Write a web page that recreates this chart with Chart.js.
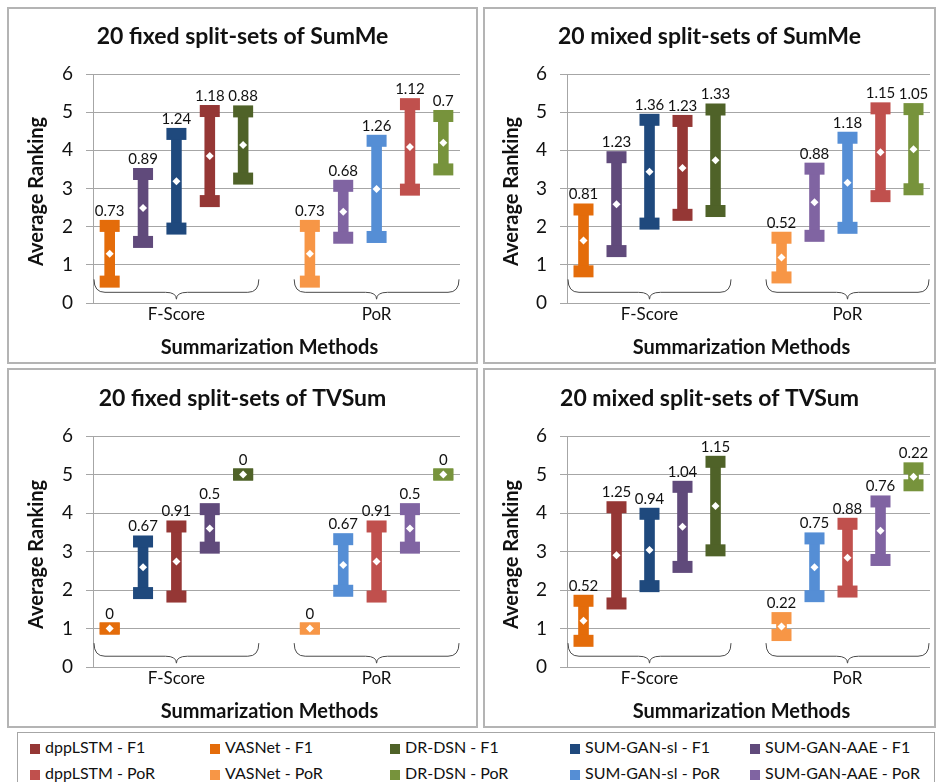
<!DOCTYPE html>
<html>
<head>
<meta charset="utf-8">
<title>Average ranking of summarization methods</title>
<script src="https://cdn.jsdelivr.net/npm/chart.js@4.4.1/dist/chart.umd.min.js"></script>
<style>
  body { margin: 0; background: #fff; width: 937px; height: 782px; position: relative; overflow: hidden; font-family: Lato, sans-serif; }
  .panel { position: absolute; box-sizing: border-box; border: 2px solid #b4b4b4; }
  .panel canvas { display: block; }
  #legend { position: absolute; left: 17px; top: 732px; width: 918px; height: 60px; box-sizing: border-box; border: 1px solid #a6a6a6; }
  .item { position: absolute; font-size: 16px; line-height: 20px; color: #111; white-space: nowrap; }
  .sw { display: inline-block; width: 10px; height: 10px; margin-right: 5px; vertical-align: -1px; }
</style>
</head>
<body>

<div class="panel" style="left:7px;top:7px;width:471px;height:357px"><canvas id="c1" width="467" height="353"></canvas></div>
<div class="panel" style="left:483px;top:7px;width:453px;height:357px"><canvas id="c2" width="449" height="353"></canvas></div>
<div class="panel" style="left:7px;top:368px;width:471px;height:360px"><canvas id="c3" width="467" height="356"></canvas></div>
<div class="panel" style="left:483px;top:368px;width:453px;height:360px"><canvas id="c4" width="449" height="356"></canvas></div>
<div id="legend"></div>

<script>
// ── Data ──
const methods = ['dppLSTM', 'VASNet', 'DR-DSN', 'SUM-GAN-sl', 'SUM-GAN-AAE'];
const colorsF1 = ['#953735', '#E46C0A', '#4F6228', '#1F497D', '#604A7B'];
const colorsPoR = ['#C0504D', '#F79646', '#77933C', '#558ED5', '#8064A2'];
const groups = ['F-Score', 'PoR'];
const yTicks = [0, 1, 2, 3, 4, 5, 6];

// 20 fixed split-sets of SumMe
const fixedSumMeOrderF = ['VASNet', 'SUM-GAN-AAE', 'SUM-GAN-sl', 'dppLSTM', 'DR-DSN'];
const fixedSumMeMeanF = [1.29, 2.49, 3.19, 3.85, 4.14];
const fixedSumMeStdF = [0.73, 0.89, 1.24, 1.18, 0.88];
const fixedSumMeOrderP = ['VASNet', 'SUM-GAN-AAE', 'SUM-GAN-sl', 'dppLSTM', 'DR-DSN'];
const fixedSumMeMeanP = [1.29, 2.39, 2.99, 4.09, 4.20];
const fixedSumMeStdP = [0.73, 0.68, 1.26, 1.12, 0.7];

// 20 mixed split-sets of SumMe
const mixedSumMeOrderF = ['VASNet', 'SUM-GAN-AAE', 'SUM-GAN-sl', 'dppLSTM', 'DR-DSN'];
const mixedSumMeMeanF = [1.64, 2.59, 3.44, 3.54, 3.74];
const mixedSumMeStdF = [0.81, 1.23, 1.36, 1.23, 1.33];
const mixedSumMeOrderP = ['VASNet', 'SUM-GAN-AAE', 'SUM-GAN-sl', 'dppLSTM', 'DR-DSN'];
const mixedSumMeMeanP = [1.19, 2.64, 3.15, 3.95, 4.03];
const mixedSumMeStdP = [0.52, 0.88, 1.18, 1.15, 1.05];

// 20 fixed split-sets of TVSum
const fixedTVSumOrderF = ['VASNet', 'SUM-GAN-sl', 'dppLSTM', 'SUM-GAN-AAE', 'DR-DSN'];
const fixedTVSumMeanF = [1, 2.59, 2.74, 3.60, 5];
const fixedTVSumStdF = [0, 0.67, 0.91, 0.5, 0];
const fixedTVSumOrderP = ['VASNet', 'SUM-GAN-sl', 'dppLSTM', 'SUM-GAN-AAE', 'DR-DSN'];
const fixedTVSumMeanP = [1, 2.65, 2.74, 3.60, 5];
const fixedTVSumStdP = [0, 0.67, 0.91, 0.5, 0];

// 20 mixed split-sets of TVSum
const mixedTVSumOrderF = ['VASNet', 'dppLSTM', 'SUM-GAN-sl', 'SUM-GAN-AAE', 'DR-DSN'];
const mixedTVSumMeanF = [1.20, 2.90, 3.04, 3.64, 4.18];
const mixedTVSumStdF = [0.52, 1.25, 0.94, 1.04, 1.15];
const mixedTVSumOrderP = ['VASNet', 'SUM-GAN-sl', 'dppLSTM', 'SUM-GAN-AAE', 'DR-DSN'];
const mixedTVSumMeanP = [1.05, 2.59, 2.84, 3.54, 4.94];
const mixedTVSumStdP = [0.22, 0.75, 0.88, 0.76, 0.22];

const FONT = 'Lato, sans-serif';
const TEXT = '#111';

// ── Plugins ──

// curly braces under each group
const bracePlugin = {
    id: 'braces',
    beforeDatasetsDraw(chart) {
        const x = chart.scales.x, y = chart.scales.y, ctx = chart.ctx;
        const slot = x.getPixelForValue(1) - x.getPixelForValue(0);
        const yTop = y.getPixelForValue(0.62);
        const yMid = y.getPixelForValue(0.28);
        const yTip = y.getPixelForValue(0.10);
        ctx.save();
        ctx.strokeStyle = '#4a4a4a';
        ctx.lineWidth = 1;
        [0, 6].forEach(function (start) {
            const L = x.getPixelForValue(start) - slot / 2 + 1;
            const R = x.getPixelForValue(start + 4) + slot / 2 - 1;
            const C = x.getPixelForValue(start + 2);
            ctx.beginPath();
            ctx.moveTo(L, yTop);
            ctx.quadraticCurveTo(L, yMid, L + 11, yMid);
            ctx.lineTo(C - 11, yMid);
            ctx.quadraticCurveTo(C, yMid, C, yTip);
            ctx.quadraticCurveTo(C, yMid, C + 11, yMid);
            ctx.lineTo(R - 11, yMid);
            ctx.quadraticCurveTo(R, yMid, R, yTop);
            ctx.stroke();
        });
        ctx.restore();
    }
};

// error-bar caps and std labels
const capPlugin = {
    id: 'caps',
    afterDatasetDraw(chart, args) {
        if (args.index !== 0) return;
        const ds = chart.data.datasets[0];
        const ctx = chart.ctx;
        ctx.save();
        args.meta.data.forEach(function (bar, i) {
            if (ds.data[i] == null) return;
            const top = Math.min(bar.y, bar.base), bottom = Math.max(bar.y, bar.base);
            ctx.fillStyle = ds.backgroundColor[i];
            ctx.fillRect(bar.x - 10, top - 6, 20, 12);
            ctx.fillRect(bar.x - 10, bottom - 6, 20, 12);
            ctx.fillStyle = TEXT;
            ctx.font = '15px ' + FONT;
            ctx.textAlign = 'center';
            ctx.textBaseline = 'alphabetic';
            ctx.fillText(String(ds.stdLabels[i]), bar.x, top - 10);
        });
        ctx.restore();
    }
};

// panel title, axis titles
const textPlugin = {
    id: 'panelText',
    afterDraw(chart, args, opts) {
        const ctx = chart.ctx, a = chart.chartArea;
        ctx.save();
        ctx.fillStyle = TEXT;
        ctx.textAlign = 'center';
        ctx.textBaseline = 'alphabetic';
        ctx.font = 'bold 23px ' + FONT;
        ctx.fillText(opts.title, chart.width / 2, opts.titleY);
        ctx.font = 'bold 20px ' + FONT;
        ctx.fillText('Summarization Methods', (a.left + a.right) / 2 - 7, a.bottom + 51);
        ctx.translate(opts.yTitleX, (a.top + a.bottom) / 2 + 3);
        ctx.rotate(-Math.PI / 2);
        ctx.textBaseline = 'middle';
        ctx.fillText('Average Ranking', 0, 0);
        ctx.restore();
    }
};

function buildPanel(id, title, orderF, meanF, stdF, orderP, meanP, stdP, area) {
    const canvas = document.getElementById(id);
    const ranges = [], means = [], stds = [], colors = [];

    orderF.forEach(function (m, i) {
        ranges.push([meanF[i] - stdF[i], meanF[i] + stdF[i]]);
        means.push(meanF[i]);
        stds.push(stdF[i]);
        colors.push(colorsF1[methods.indexOf(m)]);
    });
    ranges.push(null); means.push(null); stds.push(null); colors.push('rgba(0,0,0,0)');
    orderP.forEach(function (m, i) {
        ranges.push([meanP[i] - stdP[i], meanP[i] + stdP[i]]);
        means.push(meanP[i]);
        stds.push(stdP[i]);
        colors.push(colorsPoR[methods.indexOf(m)]);
    });

    const labels = ranges.map(function (r, i) {
        return i === 2 ? groups[0] : (i === 8 ? groups[1] : '');
    });

    return new Chart(canvas.getContext('2d'), {
        type: 'bar',
        data: {
            labels: labels,
            datasets: [{
                type: 'bar',
                data: ranges,
                stdLabels: stds,
                backgroundColor: colors,
                barThickness: 10,
                order: 2
            }, {
                type: 'line',
                data: means,
                showLine: false,
                pointStyle: 'rectRot',
                pointRadius: 4,
                pointBackgroundColor: '#fff',
                pointBorderWidth: 0,
                order: 1
            }]
        },
        options: {
            responsive: false,
            animation: false,
            devicePixelRatio: 1,
            layout: {
                padding: { left: 0, top: area.top, right: canvas.width - area.right, bottom: 0 }
            },
            scales: {
                x: {
                    grid: { display: false, drawTicks: false },
                    border: { display: false },
                    ticks: {
                        autoSkip: false, maxRotation: 0, padding: 1,
                        color: TEXT, font: { family: FONT, size: 17 }
                    },
                    afterFit: function (s) { s.height = canvas.height - area.bottom; }
                },
                y: {
                    min: 0, max: 6,
                    afterBuildTicks: function (s) { s.ticks = yTicks.map(function (v) { return { value: v }; }); },
                    grid: { color: '#a6a6a6', tickLength: 7 },
                    border: { color: '#a6a6a6' },
                    ticks: { padding: 13, color: TEXT, font: { family: FONT, size: 19 } },
                    afterFit: function (s) { s.width = area.left; }
                }
            },
            plugins: {
                legend: { display: false },
                tooltip: { enabled: false },
                panelText: { title: title, titleY: area.titleY, yTitleX: area.yTitleX }
            }
        },
        plugins: [bracePlugin, capPlugin, textPlugin]
    });
}

buildPanel('c1', '20 fixed split-sets of SumMe',
    fixedSumMeOrderF, fixedSumMeMeanF, fixedSumMeStdF, fixedSumMeOrderP, fixedSumMeMeanP, fixedSumMeStdP,
    { left: 84, right: 451, top: 65, bottom: 294, titleY: 35, yTitleX: 28 });
buildPanel('c2', '20 mixed split-sets of SumMe',
    mixedSumMeOrderF, mixedSumMeMeanF, mixedSumMeStdF, mixedSumMeOrderP, mixedSumMeMeanP, mixedSumMeStdP,
    { left: 82, right: 446, top: 65, bottom: 294, titleY: 35, yTitleX: 27 });
buildPanel('c3', '20 fixed split-sets of TVSum',
    fixedTVSumOrderF, fixedTVSumMeanF, fixedTVSumStdF, fixedTVSumOrderP, fixedTVSumMeanP, fixedTVSumStdP,
    { left: 84, right: 451, top: 66, bottom: 297, titleY: 36, yTitleX: 28 });
buildPanel('c4', '20 mixed split-sets of TVSum',
    mixedTVSumOrderF, mixedTVSumMeanF, mixedTVSumStdF, mixedTVSumOrderP, mixedTVSumMeanP, mixedTVSumStdP,
    { left: 82, right: 446, top: 66, bottom: 297, titleY: 36, yTitleX: 27 });

// ── Legend ──
const legend = document.getElementById('legend');
[['F1', colorsF1], ['PoR', colorsPoR]].forEach(function (row, r) {
    methods.forEach(function (m, c) {
        const item = document.createElement('div');
        item.className = 'item';
        item.style.left = (12 + c * 180) + 'px';
        item.style.top = (4 + r * 26) + 'px';
        item.innerHTML = '<span class="sw" style="background:' + row[1][c] + '"></span>' + m + ' - ' + row[0];
        legend.appendChild(item);
    });
});
</script>
</body>
</html>
